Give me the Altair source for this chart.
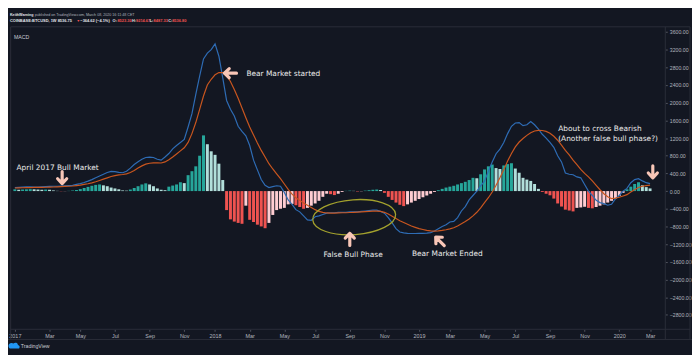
import altair as alt
import pandas as pd

# ---------------- data ----------------
first_week = "2017-01-02"
n_weeks = 166

hist_values = [
    40, 30, 35, 40, 45, 40, 35, 30, 35, 30, 15, 5, -5, -3, 5, 15,
    25, 45, 70, 95, 120, 140, 150, 130, 110, 80, 60, 40, 15, 10,
    35, 70, 110, 150, 175, 150, 110, 60, 30, 20,
    100, 125, 150, 200, 180, 360, 450, 560, 800, 1260,
    1060, 900, 820, 620, 250, -430, -640, -690, -720, -740,
    -330, -650, -700, -760, -800, -840, -720, -540, -430, -400,
    -380, -300, -290, -320, -360, -400, -380, -330, -280, -220,
    -130, -60, -70, -90, -60, -20, 5, 10, 5, -10,
    -5, 10, 20, 30, 35, 25, -40, -130, -200, -260,
    -310, -340, -300, -260, -220, -180, -140, -100, -60, -20,
    20, 50, 80, 100, 120, 150, 180, 210, 250, 300,
    290, 380, 490, 560, 600, 520, 500, 580, 610, 630,
    510, 415, 300, 260, 230, 160, 50, -20, -60, -95,
    -170, -280, -350, -420, -440, -460, -380, -370, -355, -380,
    -390, -360, -330, -300, -260, -220, -170, -110, -40, 40,
    100, 160, 200, 130, 90, 60,
]

macd_values = [
    80, 85, 90, 95, 95, 90, 90, 95, 100, 105, 110,
    110, 115, 120, 125, 130,
    150, 170, 195, 225, 260,
    300, 340, 380, 420, 445,
    440, 425, 415,
    450, 520, 600, 665,
    720, 760, 770,
    760, 720, 700,
    770, 850, 955,
    1030, 1100, 1170,
    1450, 1750, 2190, 2600, 2990,
    3120, 3200, 3330,
    3050, 2560, 2050,
    1850, 1700, 1465,
    1350, 1250, 1030,
    700, 480, 260,
    130, 80, 100,
    120, 110, -30,
    -200, -300, -420,
    -470, -560, -650, -660,
    -580, -560, -530,
    -500, -490, -490, -480, -480,
    -480, -470, -470, -470, -460,
    -450, -440, -430, -430, -460,
    -500, -600, -720,
    -850, -925, -945,
    -955, -960, -960, -955, -955,
    -950, -940, -905, -850,
    -800, -760, -700,
    -685, -600, -450,
    -350, -200, -100,
    0, 120, 225,
    450, 660, 845,
    950, 1100, 1300,
    1465, 1540, 1550,
    1480, 1500, 1575,
    1500, 1400, 1285,
    1200, 1100, 990,
    800, 660, 410,
    380, 370, 320,
    300, 150, 0,
    -100, -210, -260,
    -285, -320, -300,
    -175, -100, 0,
    60, 190, 260,
    280, 230, 190, 170,
]

signal_values = [
    70, 72, 75, 78, 80, 82, 83, 85, 87, 90, 93, 96, 100, 105, 110, 115,
    125, 135, 150, 165, 185,
    210, 240, 270, 300, 330,
    350, 365, 375,
    390, 420, 465, 520,
    570, 610, 630,
    640, 640, 635,
    660, 710, 770,
    840, 910, 980,
    1100, 1300, 1550, 1850, 2150,
    2400, 2530, 2630,
    2680, 2680, 2620,
    2480, 2300, 2100,
    1880, 1660, 1450,
    1270, 1090, 920,
    770, 620, 500,
    390, 280, 160,
    40, -70, -150,
    -210, -270, -320, -370,
    -420, -460, -480,
    -495, -500, -500, -495, -490,
    -490, -485, -480, -475, -470,
    -465, -460, -455, -455, -460,
    -480, -520, -570,
    -620, -670, -710,
    -750, -790, -820, -850, -870,
    -890, -900, -905, -900,
    -890, -875, -855,
    -830, -790, -740,
    -690, -630, -560,
    -480, -380, -260,
    -150, -20, 130,
    300, 480, 680,
    850, 1000, 1110,
    1190, 1260, 1320,
    1360, 1375, 1370,
    1350, 1310, 1240,
    1150, 1040, 920,
    820, 700, 600,
    490, 400, 320,
    230, 130, 30,
    -60, -130, -170,
    -160, -140, -110,
    -80, -20, 30,
    80, 110, 125, 135,
]

time_tick_dates = [
    "2017-01-02", "2017-03-06", "2017-05-01", "2017-07-03", "2017-09-04", "2017-11-06",
    "2018-01-01", "2018-03-05", "2018-05-07", "2018-07-02", "2018-09-03", "2018-11-05",
    "2019-01-07", "2019-03-04", "2019-05-06", "2019-07-01", "2019-09-02", "2019-11-04",
    "2020-01-06", "2020-03-02",
]
price_tick_values = [-2800, -2400, -2000, -1600, -1200, -800, -400, 0,
                     400, 800, 1200, 1600, 2000, 2400, 2800, 3200, 3600]

note_labels = ["April 2017 Bull Market", "Bear Market started", "False Bull Phase",
               "Bear Market Ended", "About to cross Bearish", "(Another false bull phase?)"]
note_dates = ["2017-01-05", "2018-02-27", "2018-07-17", "2018-12-25", "2019-09-17", "2019-09-17"]
note_values = [525, 2645, -1443, -1421, 1399, 1180]

arrow_dates = ["2017-03-29", "2018-01-29", "2018-09-03", "2019-02-14", "2020-03-07"]
arrow_values = [306, 2667, -1093, -1137, 437]
arrow_angles = [0, 90, 180, 135, 0]

ellipse_date = ["2018-09-11"]
ellipse_value = [-590]

header_texts = ["KeithWarning", "published on TradingView.com, March 08, 2020 16:11:48 CET",
                "COINBASE:BTCUSD, 1W  8536.75", "\u25bc", "\u2212364.62 (\u22124.1%)", "O:",
                "8523.30", "H:", "9214.67", "L:", "8487.33", "C:", "8536.80"]

# ---------------- styling ----------------
BG = "#131722"
BORDER = "#2a2e39"
AXIS_TXT = "#b2b5be"
TEAL, LTEAL, LRED, RED = "#26a69a", "#b2dfdb", "#ffcdd2", "#ef5350"
BLUE, ORANGE = "#2e6cb5", "#c9561f"
ARROW = "#f8c6b7"
FONT = "DejaVu Sans"
SMALL_FONT = "Liberation Sans"

assert len(hist_values) == n_weeks and len(macd_values) == n_weeks and len(signal_values) == n_weeks

dates = pd.date_range(first_week, periods=n_weeks, freq="7D").strftime("%Y-%m-%d")
states = []
prev = None
for h in hist_values:
    if h >= 0:
        states.append("grow_above" if (prev is None or prev < h) else "fall_above")
    else:
        states.append("grow_below" if (prev is not None and prev < h) else "fall_below")
    prev = h

df = pd.DataFrame({"date": list(dates), "hist": hist_values, "macd": macd_values,
                   "signal": signal_values, "state": states})

tick_ms = [int(pd.Timestamp(d, tz="UTC").value // 10**6) for d in time_tick_dates]

xscale = alt.Scale(type="utc", domain=[
    alt.DateTime(year=2016, month=12, date=29, hours=12, utc=True),
    alt.DateTime(year=2020, month=3, date=20, hours=18, utc=True)])
yscale = alt.Scale(domain=[-3126, 3716], nice=False, zero=False)

x_axis = alt.Axis(
    values=tick_ms, title=None, grid=False, domain=False,
    labelExpr="utcmonth(datum.value) == 0 ? utcFormat(datum.value, '%Y') : utcFormat(datum.value, '%b')",
    labelColor=AXIS_TXT, labelFontSize=5.5, labelFont=SMALL_FONT, labelFlush=False,
    labelOverlap=False, tickSize=2, tickColor="#50535e", labelPadding=2)
y_axis = alt.Axis(
    orient="right", values=price_tick_values, format=".2f", title=None, grid=False,
    domain=False, labelColor=AXIS_TXT, labelFontSize=5.3, labelFont=SMALL_FONT,
    labelOverlap=False, tickSize=2, tickColor="#50535e", labelPadding=2)


def X():
    return alt.X("date:T", scale=xscale, axis=x_axis, title=None)


def Y(field):
    return alt.Y(field, scale=yscale, axis=y_axis, title=None)


bars = alt.Chart(df).mark_bar(size=3).encode(
    x=X(), y=Y("hist:Q"),
    color=alt.Color("state:N", legend=None, scale=alt.Scale(
        domain=["grow_above", "fall_above", "grow_below", "fall_below"],
        range=[TEAL, LTEAL, LRED, RED])),
)

macd_line = alt.Chart(df).mark_line(color=BLUE, strokeWidth=1.2).encode(x=X(), y=Y("macd:Q"))
signal_line = alt.Chart(df).mark_line(color=ORANGE, strokeWidth=1.2).encode(x=X(), y=Y("signal:Q"))

notes_df = pd.DataFrame({"label": note_labels, "date": note_dates, "value": note_values})
notes = alt.Chart(notes_df).mark_text(align="left", baseline="middle", color="#ebebeb",
                                      font=FONT, fontSize=7.5).encode(
    x=X(), y=Y("value:Q"), text="label:N")

arrows_df = pd.DataFrame({"date": arrow_dates, "value": arrow_values, "angle": arrow_angles})
arrows = alt.Chart(arrows_df).mark_point(
    shape="M0,-1L0,1M-0.75,0.2L0,1L0.75,0.2", size=150, filled=False, stroke=ARROW,
    strokeWidth=3.2, strokeCap="round", strokeJoin="round", opacity=1).encode(
    x=X(), y=Y("value:Q"), angle=alt.Angle("angle:Q", scale=None))

ellipse_df = pd.DataFrame({"date": ellipse_date, "value": ellipse_value})
ellipse = alt.Chart(ellipse_df).mark_point(
    shape="M-1,0A1,0.42,0,1,1,1,0A1,0.42,0,1,1,-1,0Z", size=84 * 84, filled=False,
    stroke="#a3a12d", strokeWidth=1.3, angle=356, opacity=1).encode(
    x=X(), y=Y("value:Q"))

# ---------------- chrome (frame, header, logo) in pixel coordinates ----------------
frame_df = pd.DataFrame({
    "x": [2.7, 2.7, 0, 665, 2.7, 690],
    "x2": [690, 690, 692, 665, 2.7, 690],
    "y": [0, 306, 316.3, 0, 0, 0],
    "y2": [0, 306, 316.3, 316.3, 316.3, 316.3],
})
frame = alt.Chart(frame_df).mark_rule(color=BORDER, strokeWidth=1).encode(
    x=alt.X("x:Q", scale=None, axis=None), x2="x2:Q",
    y=alt.Y("y:Q", scale=None, axis=None), y2="y2:Q")

hdr_df = pd.DataFrame({
    "t": header_texts,
    "x": [2, 27, 2, 69.2, 73.2, 105.8, 110.7, 125.5, 129.5, 143.3, 147.3, 162.1, 166.1],
    "y": [-12.3, -12.3, -6.3, -6.3, -6.3, -6.3, -6.3, -6.3, -6.3, -6.3, -6.3, -6.3, -6.3],
    "c": ["#e0e3eb", "#b2b5be", "#e0e3eb", "#ef5350", "#e0e3eb", "#e0e3eb", "#ef5350",
          "#e0e3eb", "#ef5350", "#e0e3eb", "#ef5350", "#e0e3eb", "#ef5350"],
    "bold": [1, 0, 1, 0, 1, 1, 1, 1, 1, 1, 1, 1, 1],
    "fs": [3.7, 3.7, 4.0, 3.6, 4.0, 4.0, 4.0, 4.0, 4.0, 4.0, 4.0, 4.0, 4.0],
})
header_bold = alt.Chart(hdr_df).transform_filter("datum.bold == 1").mark_text(
    align="left", baseline="middle", font=SMALL_FONT, fontWeight="bold").encode(
    x=alt.X("x:Q", scale=None, axis=None), y=alt.Y("y:Q", scale=None, axis=None), text="t:N",
    color=alt.Color("c:N", scale=None), size=alt.Size("fs:Q", scale=None))
header_norm = alt.Chart(hdr_df).transform_filter("datum.bold == 0").mark_text(
    align="left", baseline="middle", font=SMALL_FONT).encode(
    x=alt.X("x:Q", scale=None, axis=None), y=alt.Y("y:Q", scale=None, axis=None), text="t:N",
    color=alt.Color("c:N", scale=None), size=alt.Size("fs:Q", scale=None))

misc_df = pd.DataFrame({"t": ["MACD", "TradingView"], "x": [6, 13], "y": [10.4, 322.6]})
misc = alt.Chart(misc_df).mark_text(align="left", baseline="middle", font=SMALL_FONT,
                                    fontSize=5.3, color="#c8cbd3").encode(
    x=alt.X("x:Q", scale=None, axis=None), y=alt.Y("y:Q", scale=None, axis=None), text="t:N")

logo = alt.Chart(pd.DataFrame({"x": [6.5], "y": [322.8]})).mark_point(
    shape="M-1,0.55L1,0.55A0.45,0.45,0,0,0,0.75,-0.2A0.55,0.55,0,0,0,-0.2,-0.5A0.5,0.5,0,0,0,-1,0.55Z",
    size=90, filled=True, color="#2196f3", opacity=1).encode(
    x=alt.X("x:Q", scale=None, axis=None), y=alt.Y("y:Q", scale=None, axis=None))

chart = alt.layer(bars, frame, macd_line, signal_line, ellipse, arrows, notes,
                  header_bold, header_norm, misc, logo).properties(
    width=665, height=306,
    padding={"left": 0, "top": 17, "right": 27, "bottom": 24},
    autosize=alt.AutoSizeParams(type="none"),
    background=BG,
).configure_view(stroke=None, fill=BG)

chart.save("out.html", embed_options={"renderer": "svg", "actions": False})
